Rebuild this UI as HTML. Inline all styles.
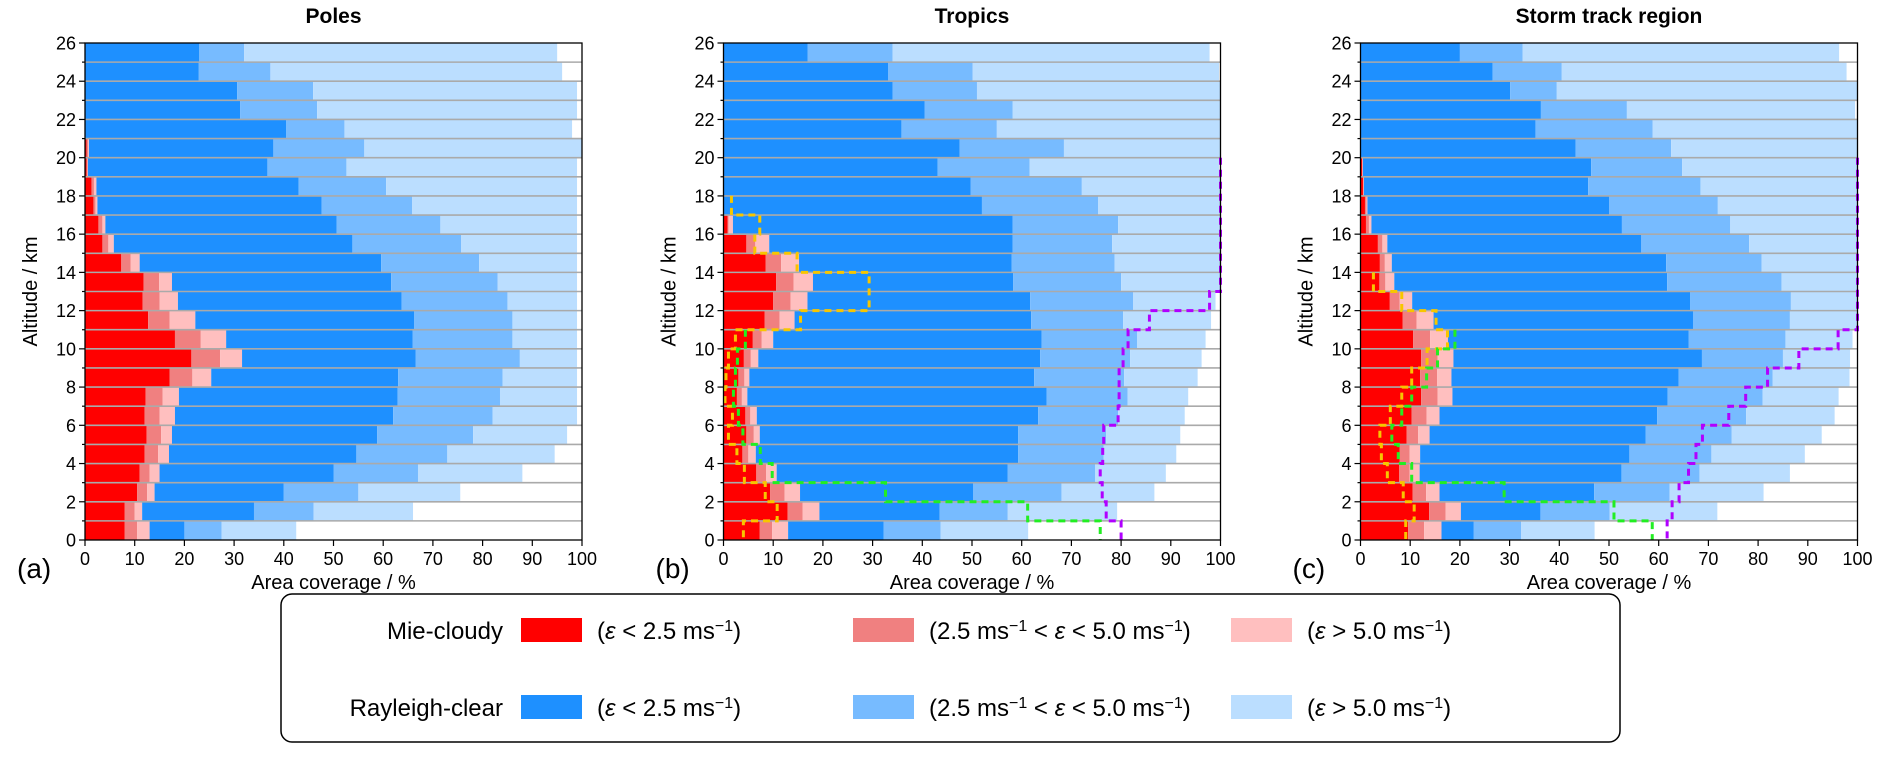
<!DOCTYPE html>
<html><head><meta charset="utf-8"><style>
html,body{margin:0;padding:0;background:#fff;}
svg{display:block;font-family:"Liberation Sans","DejaVu Sans",sans-serif;}
</style></head><body>
<svg id="chart" width="1892" height="760" viewBox="0 0 1892 760" xmlns="http://www.w3.org/2000/svg">
<g id="panels"></g>
<g>
<rect x="281" y="594" width="1339" height="148" rx="11" fill="#fff" stroke="#000" stroke-width="1.5"/>
<text x="503" y="639" font-size="24" text-anchor="end">Mie-cloudy</text>
<text x="503" y="716" font-size="24" text-anchor="end">Rayleigh-clear</text>
<rect x="521" y="618" width="61" height="24" fill="#ff0000"/>
<rect x="853" y="618" width="61" height="24" fill="#f08080"/>
<rect x="1231" y="618" width="61" height="24" fill="#ffbfbf"/>
<rect x="521" y="695" width="61" height="24" fill="#1e90ff"/>
<rect x="853" y="695" width="61" height="24" fill="#77bbff"/>
<rect x="1231" y="695" width="61" height="24" fill="#bbdeff"/>
<text x="597" y="639" font-size="24">(<tspan font-style="italic">ε</tspan> &lt; 2.5 ms<tspan baseline-shift="super" font-size="16">−1</tspan>)</text>
<text x="929" y="639" font-size="24">(2.5 ms<tspan baseline-shift="super" font-size="16">−1</tspan> &lt; <tspan font-style="italic">ε</tspan> &lt; 5.0 ms<tspan baseline-shift="super" font-size="16">−1</tspan>)</text>
<text x="1307" y="639" font-size="24">(<tspan font-style="italic">ε</tspan> &gt; 5.0 ms<tspan baseline-shift="super" font-size="16">−1</tspan>)</text>
<text x="597" y="716" font-size="24">(<tspan font-style="italic">ε</tspan> &lt; 2.5 ms<tspan baseline-shift="super" font-size="16">−1</tspan>)</text>
<text x="929" y="716" font-size="24">(2.5 ms<tspan baseline-shift="super" font-size="16">−1</tspan> &lt; <tspan font-style="italic">ε</tspan> &lt; 5.0 ms<tspan baseline-shift="super" font-size="16">−1</tspan>)</text>
<text x="1307" y="716" font-size="24">(<tspan font-style="italic">ε</tspan> &gt; 5.0 ms<tspan baseline-shift="super" font-size="16">−1</tspan>)</text>
</g>
</svg>
<script>
// cumulative stack ends per altitude level (0-1 km upward): [mie<2.5, mie2.5-5, mie>5, ray<2.5, ray2.5-5, ray>5]
const polesStack = [
[8,10.5,13,20,27.5,42.5],[8,10,11.5,34,46,66],[10.5,12.5,14,40,55,75.5],[11,13,15,50,67,88],
[12,14.7,16.9,54.6,72.9,94.5],[12.4,15.3,17.5,58.8,78.1,97],[12,15,18.1,62,82,99],[12.2,15.6,18.9,62.9,83.5,99],
[17,21.6,25.4,63,84,99],[21.4,27.2,31.6,66.5,87.5,99],[18.1,23.3,28.4,65.9,86,99],[12.7,17,22.2,66.2,86,99],
[11.6,15,18.7,63.7,85,99],[11.8,14.9,17.5,61.6,83,99],[7.3,9.2,11,59.6,79.3,99],[3.5,4.7,5.8,53.8,75.7,99],
[2.7,3.5,4.1,50.6,71.5,99],[1.7,2.1,2.5,47.6,65.8,99],[1.3,1.8,2.3,43,60.6,99],[0.3,0.5,0.6,36.7,52.6,99],
[0.3,0.6,0.8,37.9,56.2,100],[0,0,0,40.5,52.2,98],[0,0,0,31.2,46.7,99],[0,0,0,30.6,45.9,99],
[0,0,0,22.9,37.3,96],[0,0,0,23,32,95]];
const tropicsStack = [
[7.3,9.8,13,32.2,43.7,61.3],[12.9,15.9,19.3,43.5,57.2,79.2],[9.4,12.3,15.4,50.2,68,86.7],[6.6,8.6,10.7,57.2,74.8,89],
[3.8,5,6.5,59.3,76.5,91.1],[4.6,6.1,7.3,59.3,77,91.9],[4.4,5.4,6.7,63.3,79.4,92.8],[2.7,3.7,4.8,65,81.3,93.5],
[3,4.2,5.2,62.5,80.6,95.4],[4.1,5.5,7,63.7,81.8,96.2],[5.9,7.7,10,64,83.2,97],[8.3,11.3,14.3,61.9,80.4,98.1],
[10,13.5,16.9,61.7,82.4,99],[10.6,14.1,18,58.3,80,100],[8.5,11.6,15.2,58,78.7,100],[4.6,6.4,9.2,58.2,78.2,100],
[0.8,1,1.9,58.2,79.4,100],[0,0,0,52,75.4,100],[0,0,0,49.7,72.1,100],[0,0,0,43.1,61.6,99.7],
[0,0,0,47.5,68.5,100],[0,0,0,35.8,55,100],[0,0,0,40.5,58.2,100],[0,0,0,34,51,100],
[0,0,0,33.1,50.1,99.7],[0,0,0,16.9,34,97.8]];
const stormStack = [
[9.6,12.8,16.3,22.8,32.3,47.1],[13.8,17.1,20.2,36.2,50.1,71.8],[10.5,13.2,15.9,47,62.2,81.1],[7.8,9.9,11.9,52.5,68.2,86.4],
[7.9,9.9,12,54.1,70.6,89.4],[9.3,11.6,13.9,57.4,74.7,92.8],[10.3,13.3,15.9,59.7,77.6,95.4],[12.2,15.5,18.5,61.8,80.9,96.2],
[12,15.4,18.3,64,82.9,98.4],[12.2,15.5,18.7,68.7,85,98.5],[10.6,14,17.6,66,85.5,99],[8.5,11.3,14.7,66.9,86.4,100],
[5.9,7.9,10.4,66.3,86.6,100],[3.8,5,6.8,61.7,84.7,100],[3.9,4.9,6.3,61.5,80.7,100],[3.5,4.4,5.4,56.5,78.2,100],
[1.1,1.7,2.2,52.6,74.4,100],[0.9,1.2,1.4,50,71.9,100],[0.5,0.6,0.7,45.8,68.4,100],[0.3,0.4,0.5,46.4,64.7,100],
[0,0,0,43.3,62.5,100],[0,0,0,35.2,58.8,100],[0,0,0,36.3,53.6,99.5],[0,0,0,30.1,39.5,100],
[0,0,0,26.6,40.5,97.8],[0,0,0,20,32.6,96.3]];
// dashed step lines, values per level from 0 km upward
const tropicsYellow = [4,10.8,8.4,4.2,2.7,1,1.8,0.3,0.5,1,2.4,15.5,29.3,29.3,14.8,6.3,7.3,1.6];
const tropicsGreen = [75.8,61.2,32.6,9.8,7.4,3.9,3,2,2.4,2.8,4.4];
const tropicsPurple = [80,77,76.2,75.8,76.3,76.5,79.4,79.6,79.6,80.4,81.4,85.7,97.8,100,100,100,100,100,100,100];
const stormYellow = [9.1,10.8,8.6,5.4,4.2,3.9,6,8.3,10.3,13.4,17.5,15.2,8.3,2.6];
const stormGreen = [58.7,51,28.9,10.3,7.6,6.3,8.3,10.3,13.3,15.5,19];
const stormPurple = [61.7,62.7,64.1,66,67.5,68.8,74.1,77.5,81.9,88.2,96.1,100,100,100,100,100,100,100,100,100];
const xTicks = [0,10,20,30,40,50,60,70,80,90,100];
const yTicks = [0,2,4,6,8,10,12,14,16,18,20,22,24,26];
const titles = ["Poles","Tropics","Storm track region"];
const panelLetters = ["(a)","(b)","(c)"];

const NS="http://www.w3.org/2000/svg";
const colors=["#ff0000","#f08080","#ffbfbf","#1e90ff","#77bbff","#bbdeff"];
const segNames=["mie-low","mie-mid","mie-high","ray-low","ray-mid","ray-high"];
const panels=[
 {x0:85,stack:polesStack,lines:[]},
 {x0:723.5,stack:tropicsStack,lines:[[tropicsYellow,"#f7c600"],[tropicsGreen,"#22ee22"],[tropicsPurple,"#b000ff"]]},
 {x0:1360.5,stack:stormStack,lines:[[stormYellow,"#f7c600"],[stormGreen,"#22ee22"],[stormPurple,"#b000ff"]]}
];
const W=497, Y0=540, Y1=43;
const root=document.getElementById('panels');
function mk(tag,attrs,parent){const e=document.createElementNS(NS,tag);for(const k in attrs)e.setAttribute(k,attrs[k]);parent.appendChild(e);return e;}
panels.forEach((p,pi)=>{
 const g=mk('g',{},root);
 
 
 const X=v=>p.x0+v/100*W;
 const Y=a=>Y0-(a/26)*(Y0-Y1);
 p.stack.forEach((row,li)=>{
  let prev=0;
  row.forEach((end,si)=>{
   if(end>prev){
    const r=mk('rect',{x:X(prev),y:Y(li+1),width:X(end)-X(prev),height:Y(li)-Y(li+1),fill:colors[si]},g);
    
    
    prev=end;
   }
  });
 });
 for(let a=1;a<26;a++){
  const l=mk('line',{x1:X(0),x2:X(100),y1:Y(a),y2:Y(a),stroke:'#aaaaaa','stroke-width':1.6},g);
  
  
 }
 p.lines.forEach(([vals,col])=>{
  const top=vals.length-1;
  let d='M'+X(vals[top])+' '+Y(top+1);
  for(let i=top;i>=0;i--){d+=' L'+X(vals[i])+' '+Y(i+1)+' L'+X(vals[i])+' '+Y(i);}
  const pa=mk('path',{d:d,fill:'none',stroke:col,'stroke-width':3,'stroke-dasharray':'7 5'},g);
  
  
 });
 const fr=mk('rect',{x:X(0),y:Y1,width:W,height:Y0-Y1,fill:'none',stroke:'#000','stroke-width':1.3},g);
 
 
 xTicks.forEach(t=>{
  mk('line',{x1:X(t),x2:X(t),y1:Y0,y2:Y0+6,stroke:'#000','stroke-width':1.2},g);
  const tx=mk('text',{x:X(t),y:Y0+25,'font-size':18,'text-anchor':'middle'},g);
  tx.textContent=t;
  
  
 });
 for(let a=0;a<=26;a++){mk('line',{x1:X(0)-(a%2?3:6),x2:X(0),y1:Y(a),y2:Y(a),stroke:'#000','stroke-width':1.2},g);}
 yTicks.forEach(t=>{
  const ty=mk('text',{x:X(0)-9,y:Y(t)+6.5,'font-size':18,'text-anchor':'end'},g);
  ty.textContent=t;
  
  
 });
 const tt=mk('text',{x:X(50),y:23,'font-size':21,'font-weight':'bold','text-anchor':'middle'},g);
 tt.textContent=titles[pi];
 
 
 const xl=mk('text',{x:X(50),y:589,'font-size':20,'text-anchor':'middle'},g);
 xl.textContent='Area coverage / %';
 
 
 const yx=X(0)-48;
 const yl=mk('text',{x:yx,y:(Y0+Y1)/2,'font-size':20,'text-anchor':'middle',transform:'rotate(-90 '+yx+' '+(Y0+Y1)/2+')'},g);
 yl.textContent='Altitude / km';
 
 
 const pl=mk('text',{x:X(0)-68,y:578,'font-size':28},g);
 pl.textContent=panelLetters[pi];
 
 
});
</script>
</body></html>
